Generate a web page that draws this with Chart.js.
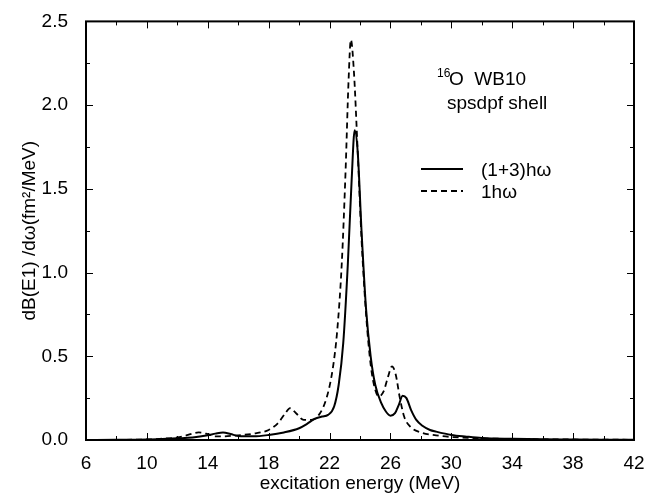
<!DOCTYPE html>
<html>
<head>
<meta charset="utf-8">
<script src="https://cdn.jsdelivr.net/npm/chart.js@4"></script>
<style>
  html, body { margin: 0; padding: 0; background: #fff; }
  #wrap { width: 662px; height: 495px; }
</style>
</head>
<body>
<div id="wrap"><canvas id="chart" width="662" height="495"></canvas></div>
<script>
// (1+3)hw curve
const energySolid = [6, 8, 10, 11, 12, 13, 14, 14.5, 15, 15.5, 16, 17, 18, 19, 20, 20.5, 21, 21.5, 21.9,
  22.3, 22.6, 22.9, 23.2, 23.45, 23.65, 23.85, 24.1, 24.4, 24.7, 25.0, 25.4, 25.7, 26.0, 26.3, 26.55,
  26.8, 27.05, 27.35, 27.7, 28.1, 28.6, 29, 30, 31, 32, 34, 36, 38, 40, 42];
const dbSolid = [0, 0.001, 0.003, 0.006, 0.01, 0.015, 0.028, 0.038, 0.045, 0.036, 0.024, 0.022, 0.03, 0.045, 0.07, 0.095, 0.125, 0.14, 0.15,
  0.2, 0.33, 0.58, 1.05, 1.55, 1.85, 1.72, 1.25, 0.78, 0.5, 0.33, 0.22, 0.17, 0.145, 0.16, 0.21,
  0.265, 0.25, 0.18, 0.12, 0.085, 0.06, 0.05, 0.03, 0.02, 0.012, 0.007, 0.004, 0.003, 0.002, 0.001];

// 1hw curve
const energyDashed = [6, 10, 11, 12, 12.7, 13.4, 14, 14.5, 15, 16, 17, 18, 18.6, 19.1, 19.4, 19.8, 20.3, 20.8,
  21.3, 21.8, 22.2, 22.5, 22.8, 23.05, 23.25, 23.4, 23.6, 23.85, 24.1, 24.4, 24.7, 25.0, 25.25, 25.55,
  25.85, 26.1, 26.35, 26.6, 26.9, 27.3, 28, 29, 30, 32, 34, 38, 42];
const dbDashed = [0, 0.003, 0.008, 0.015, 0.03, 0.045, 0.035, 0.022, 0.022, 0.028, 0.038, 0.06, 0.1, 0.16, 0.19, 0.16, 0.12, 0.12,
  0.15, 0.25, 0.42, 0.65, 1.05, 1.6, 2.15, 2.39, 2.2, 1.72, 1.2, 0.75, 0.45, 0.3, 0.26, 0.29,
  0.38, 0.44, 0.39, 0.26, 0.14, 0.08, 0.045, 0.028, 0.018, 0.01, 0.006, 0.003, 0.001];

const xTicks = [6, 10, 14, 18, 22, 26, 30, 34, 38, 42];
const yTicks = [0, 0.5, 1.0, 1.5, 2.0, 2.5];

const FONT = 'Liberation Sans, Arial, Helvetica, sans-serif';

function toPoints(xs, ys) {
  return xs.map((x, i) => ({ x: x, y: ys[i] }));
}

// frame with inward ticks, annotations and legend
const framePlugin = {
  id: 'frame',
  afterDraw(chart) {
    const { ctx, chartArea: a, scales } = chart;
    const xs = scales.x, ys = scales.y;
    ctx.save();
    ctx.strokeStyle = '#000';
    ctx.lineWidth = 2;
    ctx.strokeRect(a.left, a.top, a.right - a.left, a.bottom - a.top);

    ctx.lineWidth = 1;
    ctx.beginPath();
    for (let v = 6; v <= 42; v += 2) {
      const px = Math.round(xs.getPixelForValue(v)) + 0.5;
      const len = (v - 6) % 4 === 0 ? 7 : 4;
      ctx.moveTo(px, a.bottom); ctx.lineTo(px, a.bottom - len);
      ctx.moveTo(px, a.top); ctx.lineTo(px, a.top + len);
    }
    for (let v = 0; v <= 2.5; v += 0.25) {
      const py = Math.round(ys.getPixelForValue(v)) + 0.5;
      const len = Math.abs(v / 0.5 - Math.round(v / 0.5)) < 1e-6 ? 7 : 4;
      ctx.moveTo(a.left, py); ctx.lineTo(a.left + len, py);
      ctx.moveTo(a.right, py); ctx.lineTo(a.right - len, py);
    }
    ctx.stroke();

    // annotation
    ctx.fillStyle = '#000';
    ctx.textBaseline = 'alphabetic';
    ctx.font = '12px ' + FONT;
    ctx.fillText('16', 437, 77);
    ctx.font = '19px ' + FONT;
    ctx.fillText('O  WB10', 449, 85);
    ctx.fillText('spsdpf shell', 447, 109);

    // legend
    ctx.lineWidth = 2;
    ctx.beginPath();
    ctx.moveTo(421, 169); ctx.lineTo(463, 169);
    ctx.stroke();
    ctx.setLineDash([6, 4]);
    ctx.beginPath();
    ctx.moveTo(421, 191); ctx.lineTo(463, 191);
    ctx.stroke();
    ctx.setLineDash([]);
    ctx.fillText('(1+3)h\u03c9', 481, 176);
    ctx.fillText('1h\u03c9', 481, 198);
    ctx.restore();
  }
};

new Chart(document.getElementById('chart'), {
  type: 'scatter',
  data: {
    datasets: [
      {
        label: '(1+3)h\u03c9',
        data: toPoints(energySolid, dbSolid),
        showLine: true,
        borderColor: '#000',
        borderWidth: 2,
        pointRadius: 0,
        cubicInterpolationMode: 'monotone',
        fill: false
      },
      {
        label: '1h\u03c9',
        data: toPoints(energyDashed, dbDashed),
        showLine: true,
        borderColor: '#000',
        borderWidth: 1.8,
        borderDash: [6, 4],
        pointRadius: 0,
        cubicInterpolationMode: 'monotone',
        fill: false
      }
    ]
  },
  plugins: [framePlugin],
  options: {
    responsive: false,
    animation: false,
    layout: { padding: { left: 0, right: 28, top: 20, bottom: 0 } },
    plugins: {
      legend: { display: false },
      tooltip: { enabled: false }
    },
    scales: {
      x: {
        type: 'linear',
        min: 6,
        max: 42,
        afterFit: s => { s.height = 55; },
        afterBuildTicks: s => { s.ticks = xTicks.map(v => ({ value: v })); },
        grid: { display: false },
        border: { display: false },
        ticks: {
          color: '#000',
          padding: 4,
          maxRotation: 0,
          font: { family: FONT, size: 19 }
        },
        title: {
          display: true,
          text: 'excitation energy (MeV)',
          color: '#000',
          padding: { top: 0, bottom: 0 },
          font: { family: FONT, size: 19 }
        }
      },
      y: {
        type: 'linear',
        min: 0,
        max: 2.5,
        afterFit: s => { s.width = 86; },
        afterBuildTicks: s => { s.ticks = yTicks.map(v => ({ value: v })); },
        grid: { display: false },
        border: { display: false },
        ticks: {
          color: '#000',
          padding: 10,
          font: { family: FONT, size: 19 },
          callback: v => v.toFixed(1)
        },
        title: {
          display: true,
          text: 'dB(E1) /d\u03c9(fm\u00b2/MeV)',
          color: '#000',
          padding: { top: 18, bottom: 0 },
          font: { family: FONT, size: 19 }
        }
      }
    }
  }
});
</script>
</body>
</html>
